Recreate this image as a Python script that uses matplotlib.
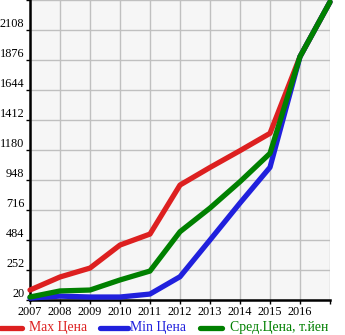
import matplotlib
matplotlib.use("Agg")
import matplotlib.pyplot as plt
from matplotlib.lines import Line2D

years = [2007, 2008, 2009, 2010, 2011, 2012, 2013, 2014, 2015, 2016, 2017]
max_price = [97, 198, 267, 445, 530, 909, 1045, 1175, 1309, 1902, 2325]
min_price = [35, 50, 43, 43, 66, 200, 484, 770, 1046, 1902, 2325]
avg_price = [43, 90, 97, 175, 244, 548, 731, 935, 1154, 1902, 2325]
y_ticks = [20, 252, 484, 716, 948, 1180, 1412, 1644, 1876, 2108]
x_labels = ["2007", "2008", "2009", "2010", "2011", "2012", "2013", "2014", "2015", "2016"]
legend_labels = ["Max Цена", "Min Цена", "Сред.Цена, т.йен"]

RED = "#dd2020"
BLUE = "#2020dd"
GREEN = "#008000"
FONT = "Liberation Serif"

W, H = 345, 335
fig = plt.figure(figsize=(W / 100, H / 100), dpi=100)
ax = fig.add_axes([30 / W, (H - 300) / H, 300 / W, 300 / H])
ax.set_facecolor("#f6f6f6")
ax.set_xlim(2007, 2017)
ax.set_ylim(20, 2340)

ax.set_xticks(years)
ax.set_xticklabels(x_labels + [""], fontfamily=FONT, fontsize=8.8)
ax.set_yticks(y_ticks + [2340])
ax.set_yticklabels([str(v) for v in y_ticks] + [""], fontfamily=FONT, fontsize=8.8,
                   va="bottom")
ax.grid(True, color="#c0c0c0", linewidth=1.0)
ax.set_axisbelow(True)
ax.tick_params(axis="y", length=3, pad=1, width=1)
ax.tick_params(axis="x", length=3, pad=1, width=1)

for sp in ["top", "right"]:
    ax.spines[sp].set_visible(False)
ax.spines["left"].set_linewidth(1.8)
ax.spines["bottom"].set_linewidth(1.8)

lw = 3.8
ax.plot(years, max_price, color=RED, lw=lw, solid_capstyle="round", clip_on=False, zorder=3)
ax.plot(years, min_price, color=BLUE, lw=lw, solid_capstyle="round", clip_on=False, zorder=3)
ax.plot(years, avg_price, color=GREEN, lw=lw, solid_capstyle="round", clip_on=False, zorder=3)

# legend
ly = 1 - 328 / H
items = [(0, 22, 29, RED), (100, 128, 130, BLUE), (200, 222, 230, GREEN)]
for (x0, x1, xt, c), lab in zip(items, legend_labels):
    fig.add_artist(Line2D([x0 / W, x1 / W], [ly, ly], color=c, lw=lw,
                          solid_capstyle="round", transform=fig.transFigure))
    fig.text(xt / W, ly, lab, color=c, fontfamily=FONT, fontsize=9.9,
             va="center", ha="left")

fig.savefig("out.png", dpi=100)
